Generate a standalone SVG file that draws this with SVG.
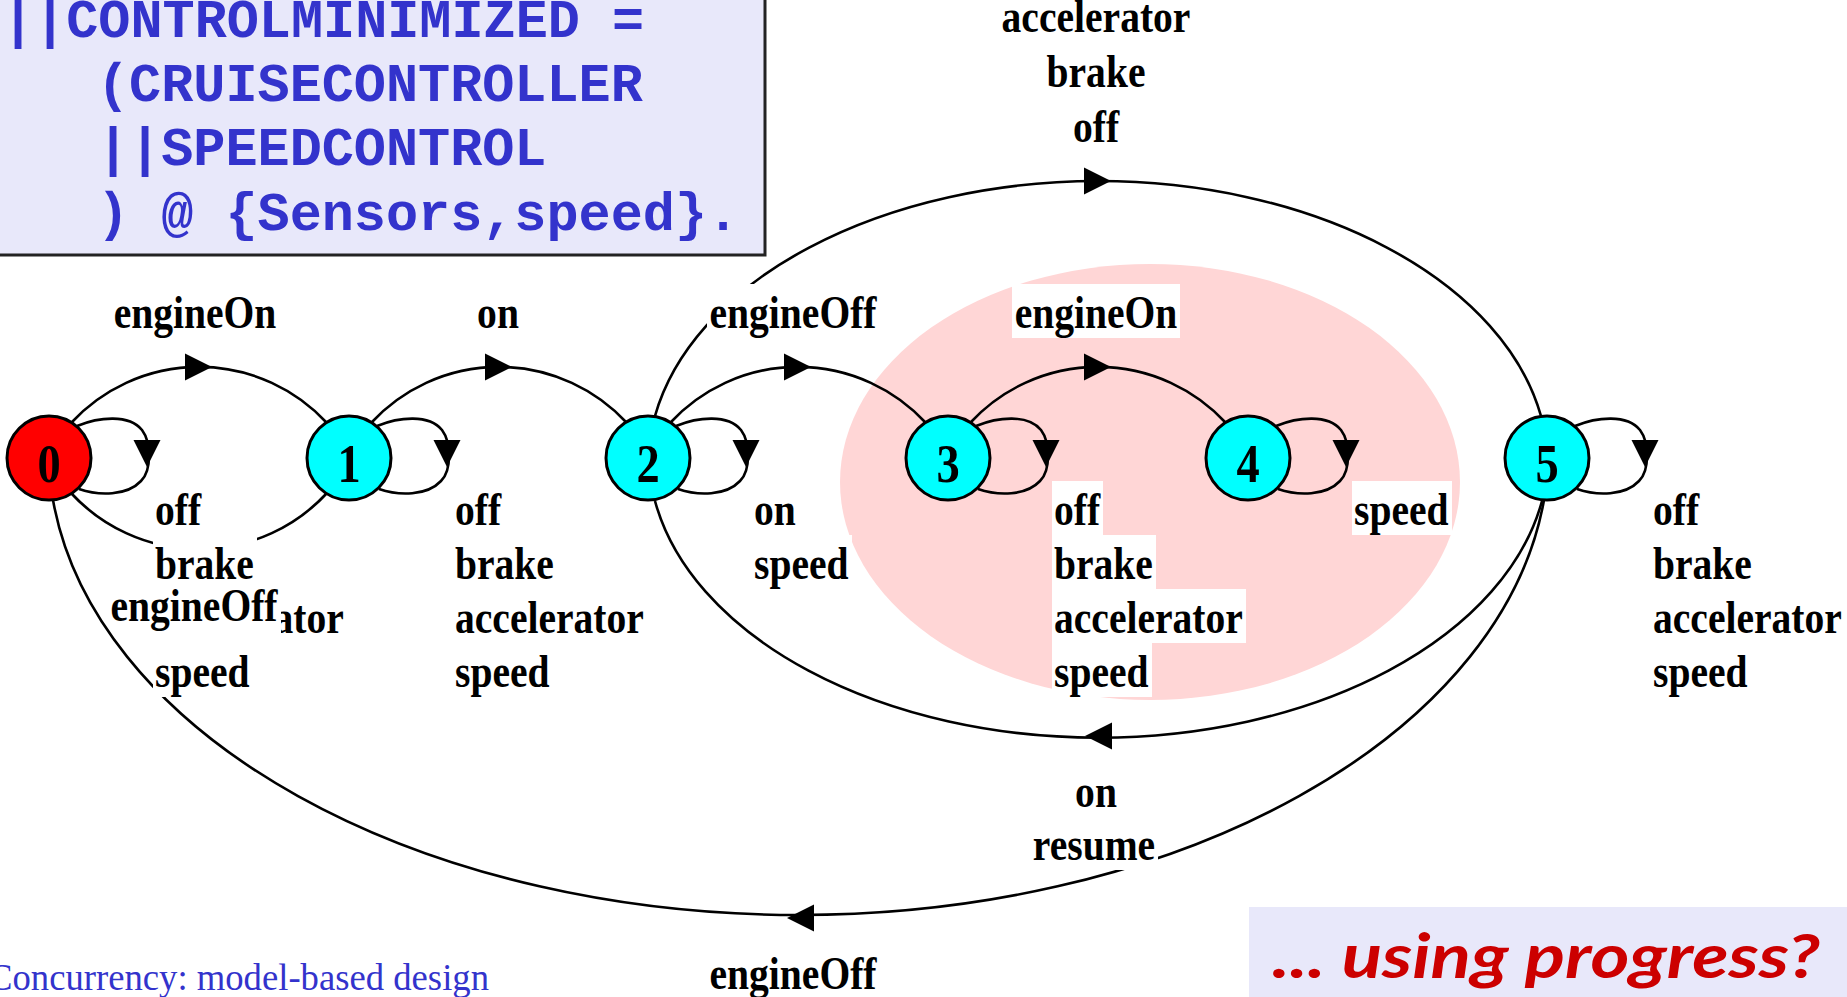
<svg xmlns="http://www.w3.org/2000/svg" width="1847" height="997" viewBox="0 0 1847 997">
<style>
.lbl{font-family:"Liberation Serif","Times New Roman",serif;font-weight:bold;font-size:46px;fill:#000}
.mid{text-anchor:middle}
.bg{fill:#fff}
.edge{fill:none;stroke:#000;stroke-width:2.6}
.st{stroke:#000;stroke-width:3}
.num{font-family:"Liberation Serif","Times New Roman",serif;font-weight:bold;font-size:54px;fill:#000;text-anchor:middle}
.code{font-family:"Liberation Mono","Courier New",monospace;font-weight:bold;font-size:53.5px;fill:#3333CC}
</style>
<defs>
<path id="ah" d="M -14 -13.5 L 13 0 L -14 13.5 Z" fill="#000"/>
<path id="loop" d="M 28 -32 C 50 -41 80 -44 93 -28 C 102 -16 103 12 92 23 C 78 38 50 38 30 31" class="edge"/>
</defs>
<rect width="1847" height="997" fill="#fff"/>

<g id="code-box">
<rect x="-3" y="-3" width="768" height="258" fill="#E8E8FA" stroke="#222" stroke-width="3"/>
<text class="code" x="2" y="37">||CONTROLMINIMIZED =</text>
<text class="code" x="97" y="101">(CRUISECONTROLLER</text>
<text class="code" x="97" y="165">||SPEEDCONTROL</text>
<text class="code" x="97" y="230">) @ {Sensors,speed}.</text>
</g>

<ellipse id="progress-region" cx="1150" cy="482" rx="310" ry="218" fill="#FFD6D6"/>

<g id="connectors">
<path class="edge" d="M 71 423 A 174 174 0 0 1 327 423"/>
<use href="#ah" transform="translate(199 367)"/>
<path class="edge" d="M 371 423 A 174 174 0 0 1 627 423"/>
<use href="#ah" transform="translate(499 367)"/>
<path class="edge" d="M 670 423 A 174 174 0 0 1 926 423"/>
<use href="#ah" transform="translate(798 367)"/>
<path class="edge" d="M 970 423 A 174 174 0 0 1 1226 423"/>
<use href="#ah" transform="translate(1098 367)"/>
<path class="edge" d="M 327 493 A 174 174 0 0 1 71 493"/>
<use href="#ah" transform="translate(199 549) rotate(180)"/>
<path class="edge" d="M 655 416 A 450 285 0 0 1 1541 416"/>
<use href="#ah" transform="translate(1098 181)"/>
<path class="edge" d="M 1542 501 A 450 285 0 0 1 655 501"/>
<use href="#ah" transform="translate(1098 736) rotate(180)"/>
<path class="edge" d="M 1544 500 A 750 466 0 0 1 53 500"/>
<use href="#ah" transform="translate(800 918) rotate(180)"/>
<use href="#loop" transform="translate(49 458)"/>
<use href="#ah" transform="translate(147 454) rotate(90)"/>
<use href="#loop" transform="translate(349 458)"/>
<use href="#ah" transform="translate(447 454) rotate(90)"/>
<use href="#loop" transform="translate(648 458)"/>
<use href="#ah" transform="translate(746 454) rotate(90)"/>
<use href="#loop" transform="translate(948 458)"/>
<use href="#ah" transform="translate(1046 454) rotate(90)"/>
<use href="#loop" transform="translate(1248 458)"/>
<use href="#ah" transform="translate(1346 454) rotate(90)"/>
<use href="#loop" transform="translate(1547 458)"/>
<use href="#ah" transform="translate(1645 454) rotate(90)"/>
</g>

<g id="node0"><circle class="st" cx="49" cy="458" r="42" fill="#FF0000"/><text class="num" transform="translate(49 482) scale(.86 1)">0</text></g>
<g id="node1"><circle class="st" cx="349" cy="458" r="42" fill="#00FFFF"/><text class="num" transform="translate(349 482) scale(.86 1)">1</text></g>
<g id="node2"><circle class="st" cx="648" cy="458" r="42" fill="#00FFFF"/><text class="num" transform="translate(648 482) scale(.86 1)">2</text></g>
<g id="node3"><circle class="st" cx="948" cy="458" r="42" fill="#00FFFF"/><text class="num" transform="translate(948 482) scale(.86 1)">3</text></g>
<g id="node4"><circle class="st" cx="1248" cy="458" r="42" fill="#00FFFF"/><text class="num" transform="translate(1248 482) scale(.86 1)">4</text></g>
<g id="node5"><circle class="st" cx="1547" cy="458" r="42" fill="#00FFFF"/><text class="num" transform="translate(1547 482) scale(.86 1)">5</text></g>

<g id="labels">
<!-- node 0 self loop -->
<rect class="bg" x="153" y="481" width="51" height="54"/><text class="lbl" transform="translate(155 525) scale(.86 1)">off</text>
<rect class="bg" x="153" y="535" width="104" height="54"/><text class="lbl" transform="translate(155 579) scale(.86 1)">brake</text>
<rect class="bg" x="153" y="589" width="194" height="54"/><text class="lbl" transform="translate(155 633) scale(.86 1)">accelerator</text>
<rect class="bg" x="153" y="643" width="100" height="54"/><text class="lbl" transform="translate(155 687) scale(.86 1)">speed</text>
<!-- 1 -> 0 -->
<rect class="bg" x="113" y="581" width="168" height="55"/><text class="lbl mid" transform="translate(194 621) scale(.86 1)">engineOff</text>
<!-- node 1 self loop -->
<rect class="bg" x="453" y="481" width="51" height="54"/><text class="lbl" transform="translate(455 525) scale(.86 1)">off</text>
<rect class="bg" x="453" y="535" width="104" height="54"/><text class="lbl" transform="translate(455 579) scale(.86 1)">brake</text>
<rect class="bg" x="453" y="589" width="194" height="54"/><text class="lbl" transform="translate(455 633) scale(.86 1)">accelerator</text>
<rect class="bg" x="453" y="643" width="100" height="54"/><text class="lbl" transform="translate(455 687) scale(.86 1)">speed</text>
<!-- node 2 self loop -->
<rect class="bg" x="752" y="481" width="47" height="54"/><text class="lbl" transform="translate(754 525) scale(.86 1)">on</text>
<rect class="bg" x="752" y="535" width="100" height="54"/><text class="lbl" transform="translate(754 579) scale(.86 1)">speed</text>
<!-- node 3 self loop -->
<rect class="bg" x="1052" y="481" width="51" height="54"/><text class="lbl" transform="translate(1054 525) scale(.86 1)">off</text>
<rect class="bg" x="1052" y="535" width="104" height="54"/><text class="lbl" transform="translate(1054 579) scale(.86 1)">brake</text>
<rect class="bg" x="1052" y="589" width="194" height="54"/><text class="lbl" transform="translate(1054 633) scale(.86 1)">accelerator</text>
<rect class="bg" x="1052" y="643" width="100" height="54"/><text class="lbl" transform="translate(1054 687) scale(.86 1)">speed</text>
<!-- node 4 self loop -->
<rect class="bg" x="1352" y="481" width="100" height="54"/><text class="lbl" transform="translate(1354 525) scale(.86 1)">speed</text>
<!-- node 5 self loop -->
<rect class="bg" x="1651" y="481" width="51" height="54"/><text class="lbl" transform="translate(1653 525) scale(.86 1)">off</text>
<rect class="bg" x="1651" y="535" width="104" height="54"/><text class="lbl" transform="translate(1653 579) scale(.86 1)">brake</text>
<rect class="bg" x="1651" y="589" width="194" height="54"/><text class="lbl" transform="translate(1653 633) scale(.86 1)">accelerator</text>
<rect class="bg" x="1651" y="643" width="100" height="54"/><text class="lbl" transform="translate(1653 687) scale(.86 1)">speed</text>
<!-- top arcs -->
<rect class="bg" x="111" y="284" width="168" height="54"/><text class="lbl mid" transform="translate(195 328) scale(.86 1)">engineOn</text>
<rect class="bg" x="475" y="284" width="47" height="54"/><text class="lbl mid" transform="translate(498 328) scale(.86 1)">on</text>
<rect class="bg" x="707" y="284" width="172" height="54"/><text class="lbl mid" transform="translate(793 328) scale(.86 1)">engineOff</text>
<rect class="bg" x="1012" y="284" width="168" height="54"/><text class="lbl mid" transform="translate(1096 328) scale(.86 1)">engineOn</text>
<!-- 2 -> 5 -->
<text class="lbl mid" transform="translate(1096 32) scale(.86 1)">accelerator</text>
<text class="lbl mid" transform="translate(1096 87) scale(.86 1)">brake</text>
<text class="lbl mid" transform="translate(1096 142) scale(.86 1)">off</text>
<!-- 5 -> 2 -->
<rect class="bg" x="1073" y="763" width="47" height="54"/><text class="lbl mid" transform="translate(1096 807) scale(.86 1)">on</text>
<rect class="bg" x="1030" y="816" width="128" height="54"/><text class="lbl mid" transform="translate(1094 860) scale(.86 1)">resume</text>
<!-- 5 -> 0 -->
<text class="lbl mid" transform="translate(793 989) scale(.86 1)">engineOff</text>
</g>

<text x="-12" y="990" font-family="Liberation Serif, serif" font-size="38" fill="#3333CC" textLength="501" lengthAdjust="spacingAndGlyphs">Concurrency: model-based design</text>

<g id="question-box">
<rect x="1249" y="907" width="600" height="92" fill="#E8E8FA"/>
<text x="1272" y="978" font-family="Lato, 'DejaVu Sans', sans-serif" font-weight="bold" font-style="italic" font-size="62" fill="#CC0000" textLength="548" lengthAdjust="spacingAndGlyphs">... using progress?</text>
</g>
</svg>
